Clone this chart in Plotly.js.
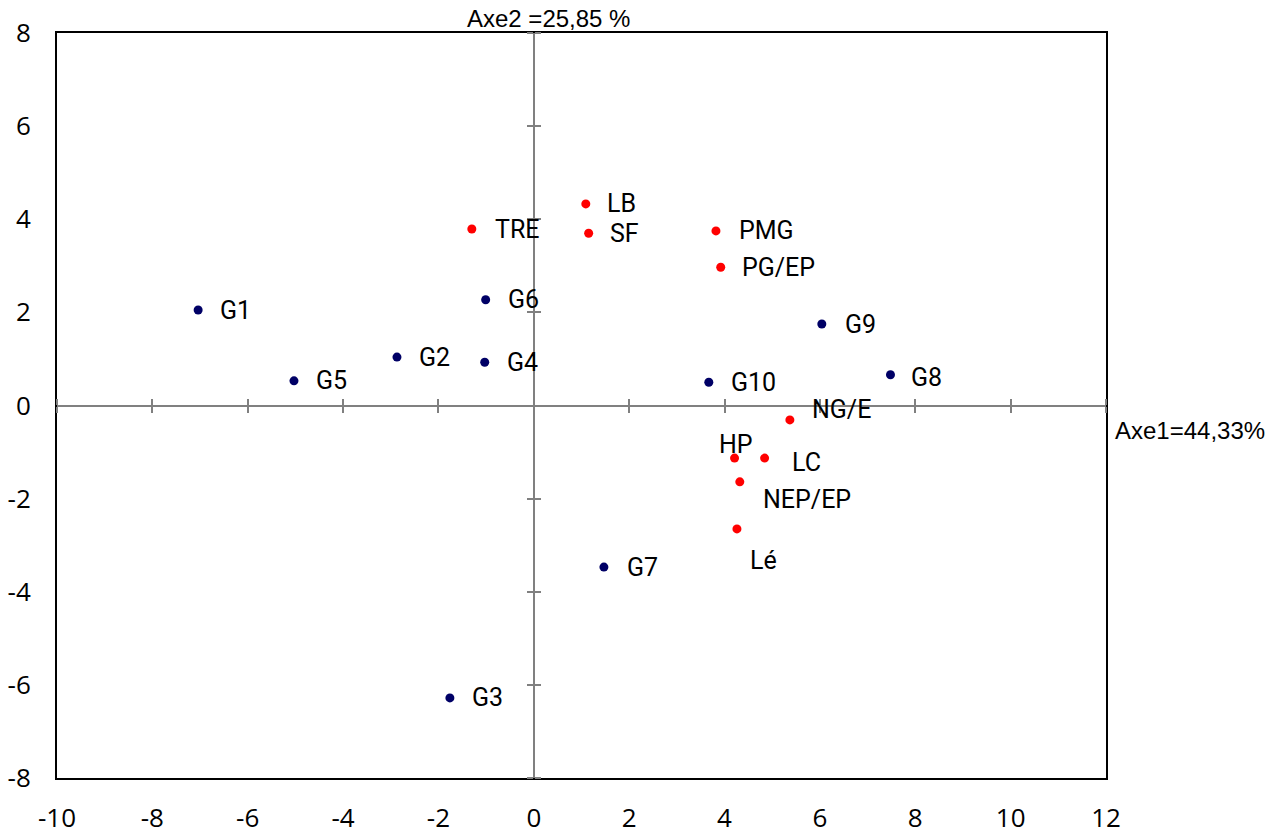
<!DOCTYPE html>
<html><head><meta charset="utf-8">
<script src="https://cdn.plot.ly/plotly-3.0.1.min.js"></script>
<style>html,body{margin:0;padding:0;background:#fff}</style>
</head><body><div id="chart" style="width:1278px;height:836px"></div>
<script>
// Genotypes (blue)
const gNames = ["G1","G2","G3","G4","G5","G6","G7","G8","G9","G10"];
const gX = [-7.04,-2.87,-1.76,-1.03,-5.03,-1.01,1.47,7.48,6.04,3.67];
const gY = [2.05,1.04,-6.28,0.93,0.53,2.27,-3.47,0.66,1.75,0.50];
// Variables (red)
const vNames = ["TRE","LB","SF","PMG","PG/EP","NG/E","HP","LC","NEP/EP","Lé"];
const vX = [-1.30,1.09,1.15,3.82,3.92,5.37,4.21,4.84,4.32,4.26];
const vY = [3.79,4.33,3.70,3.75,2.97,-0.31,-1.13,-1.13,-1.64,-2.65];
// label shifts in px (xshift, yshift; left-anchored text)
const gOff = [[20,0],[20,0],[20,0],[20,0],[20,0],[20,0],[21,0],[19,-3],[21,0],[20,0]];
const vOff = [[21,0],[19,0],[19,0],[21,0],[19,0],[20,10],[-18,14],[25,-4],[21,-18],[11,-32]];
const xTicks = [-10,-8,-6,-4,-2,0,2,4,6,8,10,12];
const xTickText = ["-10","-8","-6","-4","-2","0","2","4","6","8","10","12"];
const yTicks = [-8,-6,-4,-2,0,2,4,6,8];
const yTickText = ["-8","-6","-4","-2","0","2","4","6","8"];
const axis1Title = "Axe1=44,33%";
const axis2Title = "Axe2 =25,85 %";

const traces = [
  {x:gX,y:gY,mode:'markers',type:'scatter',marker:{color:'#000066',size:9},hoverinfo:'skip'},
  {x:vX,y:vY,mode:'markers',type:'scatter',marker:{color:'#ff0000',size:9},hoverinfo:'skip'},
  {x:[],y:[],xaxis:'x2',yaxis:'y2',type:'scatter'},
  {x:[],y:[],xaxis:'x3',yaxis:'y3',type:'scatter'}
];
const labelFont = {family:'Roboto, Arial, sans-serif',size:25,color:'#000'};
const annotations = [];
gNames.forEach((n,i)=>annotations.push({x:gX[i],y:gY[i],text:n,showarrow:false,xanchor:'left',yanchor:'middle',xshift:gOff[i][0],yshift:gOff[i][1],font:labelFont,xref:'x',yref:'y'}));
vNames.forEach((n,i)=>annotations.push({x:vX[i],y:vY[i],text:n,showarrow:false,xanchor:'left',yanchor:'middle',xshift:vOff[i][0],yshift:vOff[i][1],font:labelFont,xref:'x',yref:'y'}));
const titleFont = {family:'Liberation Sans, Arial, sans-serif',size:24,color:'#000'};
annotations.push({xref:'paper',yref:'paper',x:0.3890,y:1,yanchor:'middle',xanchor:'left',text:axis2Title,showarrow:false,font:titleFont,yshift:15});
annotations.push({xref:'paper',yref:'paper',x:1.0067,y:0.467,yanchor:'middle',xanchor:'left',text:axis1Title,showarrow:false,font:titleFont});

const tickFont = {family:'Open Sans, sans-serif',size:26,color:'#000'};
const crossX = (side)=>({overlaying:'x',anchor:'free',position:0.5,side:side,range:[-10,12],tickvals:xTicks,ticks:'outside',ticklen:6,tickwidth:2,tickcolor:'#808080',showline:true,linecolor:'#808080',linewidth:2,showticklabels:false,showgrid:false,zeroline:false,fixedrange:true});
const crossY = (side)=>({overlaying:'y',anchor:'free',position:10/22,side:side,range:[-8,8],tickvals:yTicks,ticks:'outside',ticklen:6,tickwidth:2,tickcolor:'#808080',showline:true,linecolor:'#808080',linewidth:2,showticklabels:false,showgrid:false,zeroline:false,fixedrange:true});

const layout = {
  width:1278,height:836,
  margin:{l:57,r:172,t:33,b:58},
  paper_bgcolor:'#fff',plot_bgcolor:'#fff',
  showlegend:false,
  xaxis:{range:[-10,12],tickvals:xTicks,ticktext:xTickText,ticks:'',showgrid:false,zeroline:false,showline:true,mirror:true,linecolor:'#000',linewidth:2,tickfont:tickFont,fixedrange:true,ticklabelstandoff:16},
  yaxis:{range:[-8,8],tickvals:yTicks,ticktext:yTickText,ticks:'',showgrid:false,zeroline:false,showline:true,mirror:true,linecolor:'#000',linewidth:2,tickfont:tickFont,fixedrange:true,ticklabelstandoff:19},
  xaxis2:crossX('bottom'),yaxis2:crossY('left'),
  xaxis3:crossX('top'),yaxis3:crossY('right'),
  annotations:annotations
};
Plotly.newPlot('chart',traces,layout,{displayModeBar:false,staticPlot:true});
</script></body></html>
